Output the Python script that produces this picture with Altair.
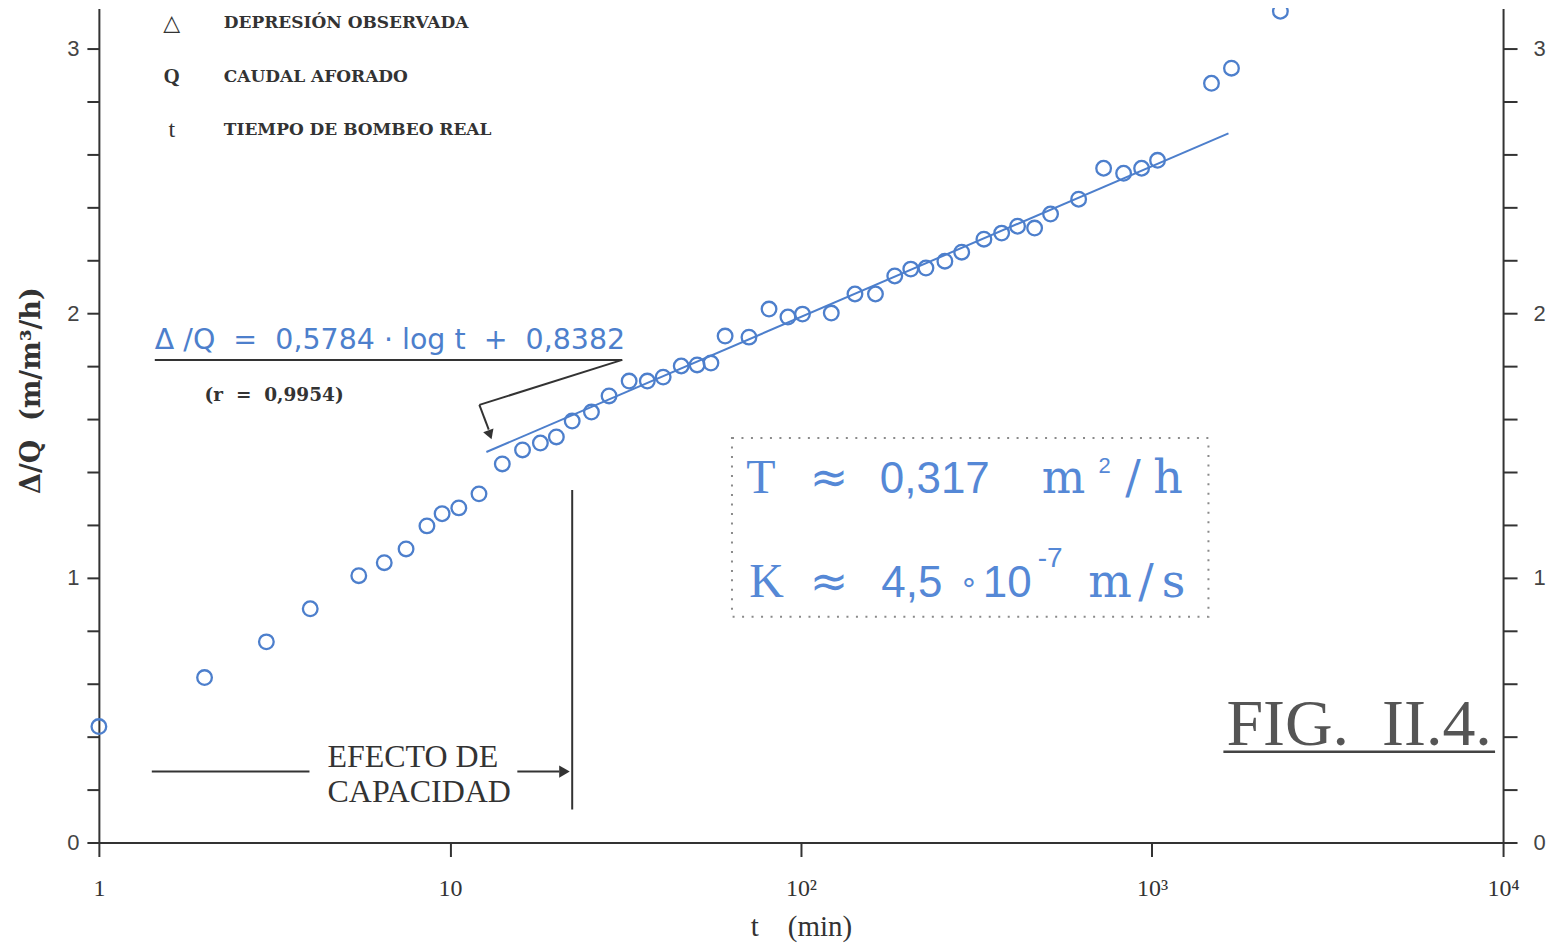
import altair as alt
import pandas as pd

# ---------------- data ----------------
t_min = [1, 2.0, 3.0, 4.0, 5.5, 6.5, 7.5, 8.6, 9.5, 10.6, 12.1, 14.1, 16.1, 18.1, 20.1,
         22.3, 25.3, 28.4, 32.4, 36.5, 40.5, 45.6, 50.6, 55.4, 60.8, 71.1, 81.1, 91.8,
         101, 122, 142.5, 163, 185, 205.5, 227, 257, 287, 332, 373, 414, 463, 514, 618,
         728, 830, 934, 1037, 1477, 1684, 2321]
dq = [0.438, 0.623, 0.758, 0.883, 1.008, 1.057, 1.109, 1.196, 1.242, 1.264, 1.317, 1.430,
      1.483, 1.509, 1.532, 1.592, 1.626, 1.687, 1.743, 1.743, 1.758, 1.800, 1.804, 1.811,
      1.913, 1.909, 2.015, 1.985, 1.996, 2.000, 2.072, 2.072, 2.140, 2.166, 2.170, 2.196,
      2.230, 2.279, 2.302, 2.328, 2.321, 2.374, 2.430, 2.547, 2.528, 2.547, 2.577, 2.868,
      2.925, 3.140]
fit_t = [12.7, 1651]
fit_dq = [1.475, 2.679]
x_ticks = [1, 10, 100, 1000, 10000]
y_ticks = [0, 0.2, 0.4, 0.6, 0.8, 1, 1.2, 1.4, 1.6, 1.8, 2, 2.2, 2.4, 2.6, 2.8, 3]

BLUE = "#4d7fcc"
BLUE2 = "#5588d6"
DARK = "#333333"
SERIF = "Liberation Serif"
SANS = "Liberation Sans"
DSERIF = "DejaVu Serif"

xs = alt.Scale(type="log", domain=[1, 10000], nice=False)
ys = alt.Scale(domain=[0, 3.15], nice=False, zero=False)

x_axis = alt.Axis(
    values=x_ticks, orient="bottom",
    labelExpr="datum.value < 5 ? '1' : datum.value < 50 ? '10' : datum.value < 500 ? '10²' : datum.value < 5000 ? '10³' : '10⁴'",
    title="t\u00a0\u00a0\u00a0\u00a0(min)", titleFont=SERIF, titleFontSize=29, titleFontWeight="normal",
    titleColor=DARK, titleY=84, titleBaseline="middle",
    labelFont=SERIF, labelFontSize=24, labelColor=DARK, labelPadding=20, labelFlush=False,
    tickSize=14, tickWidth=2, tickColor=DARK, domainColor=DARK, domainWidth=2, grid=False,
)
y_left = alt.Axis(
    values=y_ticks, orient="left",
    labelExpr="abs(datum.value - round(datum.value)) < 0.001 ? format(datum.value, 'd') : ''",
    title="Δ/Q\u00a0\u00a0(m/m³/h)", titleFont=DSERIF, titleFontSize=27, titleFontWeight="bold",
    titleColor=DARK, titleX=-67, titleY=382, titleAngle=270, titleAlign="center",
    titleBaseline="middle",
    labelFont=SANS, labelFontSize=22, labelColor="#444444", labelPadding=8, labelFlush=False,
    tickSize=12, tickWidth=2, tickColor=DARK, domainColor=DARK, domainWidth=2, grid=False,
)
y_right = alt.Axis(
    values=y_ticks, orient="right", title="",
    labelExpr="abs(datum.value - round(datum.value)) < 0.001 ? format(datum.value, 'd') : ''",
    labelFont=SANS, labelFontSize=22, labelColor="#444444", labelPadding=16, labelFlush=False,
    tickSize=14, tickWidth=2, tickColor=DARK, domainColor=DARK, domainWidth=2, grid=False,
)

pts = pd.DataFrame({"t": t_min, "dq": dq})
fit = pd.DataFrame({"t": fit_t, "dq": fit_dq})


def X(f="t"):
    return alt.X(f"{f}:Q", scale=xs, axis=None)


def Y(f="y"):
    return alt.Y(f"{f}:Q", scale=ys, axis=None)


def txt(t, y, s, **kw):
    df = pd.DataFrame({"t": [t], "y": [y], "s": [s]})
    return alt.Chart(df).mark_text(**kw).encode(x=X(), y=Y(), text="s:N")


def rule(t1, y1, t2, y2, color=DARK, width=2):
    df = pd.DataFrame({"t": [t1], "y": [y1], "t2": [t2], "y2": [y2]})
    return alt.Chart(df).mark_rule(color=color, strokeWidth=width).encode(
        x=X(), y=Y(), x2=alt.X2("t2"), y2=alt.Y2("y2"))


def head(t, y, shape, angle=0, size=130):
    df = pd.DataFrame({"t": [t], "y": [y]})
    return alt.Chart(df).mark_point(shape=shape, filled=True, size=size, color=DARK,
                                    opacity=1, angle=angle).encode(x=X(), y=Y())


points = alt.Chart(pts).mark_point(shape="circle", filled=False, size=215, strokeWidth=2.3,
                                   color=BLUE, opacity=1).encode(
    x=alt.X("t:Q", scale=xs, axis=x_axis),
    y=alt.Y("dq:Q", scale=ys, axis=y_left),
)
right_axis = alt.Chart(pts).mark_point(opacity=0).encode(
    x=X(), y=alt.Y("dq:Q", scale=ys, axis=y_right))
fit_line = alt.Chart(fit).mark_line(color=BLUE, strokeWidth=2).encode(x=X(), y=Y("dq"))

box_df = pd.DataFrame({"t": [63.6], "t2": [1448], "y": [0.853], "y2": [1.528]})
box = alt.Chart(box_df).mark_rect(fillOpacity=0, stroke="#8a8a8a", strokeWidth=2,
                                  strokeDash=[2, 7.5]).encode(
    x=X(), x2=alt.X2("t2"), y=Y(), y2=alt.Y2("y2"))

big = dict(color=BLUE2, align="center", baseline="alphabetic")

layers = [
    box, fit_line, points, right_axis,
    # legend block
    txt(1.613, 3.094, "△", font="DejaVu Sans", fontSize=22, color=DARK, align="center", baseline="middle"),
    txt(1.613, 2.891, "Q", font=SERIF, fontSize=21, fontWeight="bold", color=DARK, align="center", baseline="middle"),
    txt(1.613, 2.691, "t", font=SERIF, fontSize=24, color=DARK, align="center", baseline="middle"),
    txt(2.27, 3.094, "DEPRESIÓN OBSERVADA", font=DSERIF, fontSize=17, fontWeight="bold", color=DARK, align="left", baseline="middle"),
    txt(2.27, 2.891, "CAUDAL AFORADO", font=DSERIF, fontSize=17, fontWeight="bold", color=DARK, align="left", baseline="middle"),
    txt(2.27, 2.691, "TIEMPO DE BOMBEO REAL", font=DSERIF, fontSize=17, fontWeight="bold", color=DARK, align="left", baseline="middle"),
    # regression equation and leader
    txt(1.443, 1.898, "Δ /Q\u00a0\u00a0=\u00a0\u00a00,5784 · log t\u00a0\u00a0+\u00a0\u00a00,8382",
        font="DejaVu Sans", fontSize=28.5, color=BLUE, align="left", baseline="middle"),
    rule(1.443, 1.823, 30.96, 1.823),
    rule(30.96, 1.823, 12.13, 1.653),
    rule(12.13, 1.653, 12.9, 1.56),
    head(13.0, 1.540, "triangle-down", angle=340, size=120),
    txt(2.0, 1.691, "(r\u00a0\u00a0=\u00a0\u00a00,9954)", font=DSERIF, fontSize=18.5, fontWeight="bold",
        color=DARK, align="left", baseline="middle"),
    # capacity effect
    rule(22.3, 0.1245, 22.3, 1.332),
    rule(1.415, 0.268, 3.98, 0.268),
    rule(15.56, 0.268, 20.5, 0.268),
    head(21.2, 0.268, "triangle-right", size=150),
    txt(4.48, 0.3245, "EFECTO DE", font=SERIF, fontSize=32, color=DARK, align="left", baseline="middle"),
    txt(4.48, 0.1925, "CAPACIDAD", font=SERIF, fontSize=32, color=DARK, align="left", baseline="middle"),
    # figure label
    txt(1629, 0.370, "FIG.\u00a0\u00a0II.4.", font=SERIF, fontSize=66, color="#555555", align="left", baseline="alphabetic"),
    rule(1597, 0.343, 9489, 0.343, color="#444444", width=2.5),
    # T and K box
    txt(76.9, 1.3208, "T", font=SERIF, fontSize=48, **big),
    txt(120.2, 1.3208, "≈", font="DejaVu Sans", fontSize=46, **big),
    txt(240.6, 1.3208, "0,317", font=SANS, fontSize=44, **big),
    txt(560, 1.3208, "m", font=DSERIF, fontSize=46, **big),
    txt(732.6, 1.396, "2", font=SANS, fontSize=22, **big),
    txt(883.2, 1.3208, "/", font=DSERIF, fontSize=46, **big),
    txt(1110.4, 1.3208, "h", font=DSERIF, fontSize=46, **big),
    txt(79.8, 0.9283, "K", font=SERIF, fontSize=48, **big),
    txt(120.2, 0.9283, "≈", font="DejaVu Sans", fontSize=46, **big),
    txt(206.9, 0.9283, "4,5", font=SANS, fontSize=44, **big),
    txt(300.6, 0.981, "∘", font="DejaVu Sans", fontSize=30, color=BLUE2, align="center", baseline="middle"),
    txt(386.9, 0.9283, "10", font=SANS, fontSize=44, **big),
    txt(512.6, 1.0415, "-7", font=SANS, fontSize=28, **big),
    txt(759.4, 0.9283, "m", font=DSERIF, fontSize=46, **big),
    txt(961.4, 0.9283, "/", font=DSERIF, fontSize=46, **big),
    txt(1151.5, 0.9283, "s", font=DSERIF, fontSize=46, **big),
]

chart = alt.layer(*layers).resolve_axis(y="independent", x="independent").properties(
    width=1406, height=835,
    autosize=alt.AutoSizeParams(type="none"),
    padding={"left": 91, "top": 0, "right": 45, "bottom": 100},
    background="white",
).configure_view(strokeWidth=0)

chart.save("out.html", embed_options={"renderer": "svg", "actions": False})
